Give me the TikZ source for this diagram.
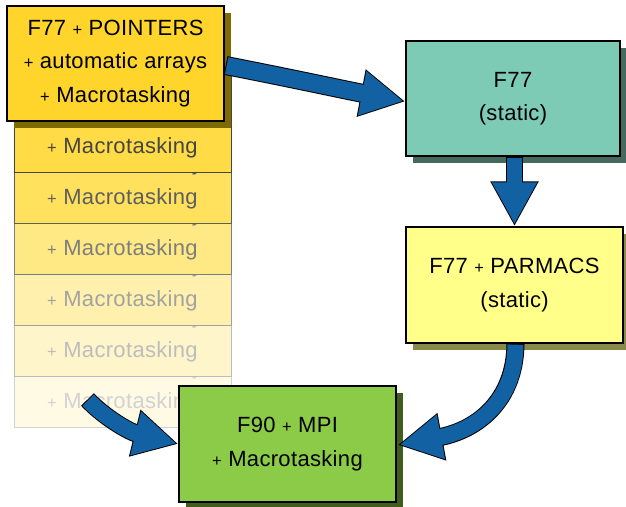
\documentclass[tikz,border=0pt]{standalone}
\usepackage{fontspec}
\setmainfont{Liberation Sans}[LetterSpace=1.5]
\usetikzlibrary{arrows.meta,calc,shadows}

% box fills and shadows
\definecolor{goldfill}{HTML}{FFD42B}
\definecolor{goldshadow}{HTML}{7F6A00}
\definecolor{tealfill}{HTML}{7ECBB5}
\definecolor{tealshadow}{HTML}{46685E}
\definecolor{lemonfill}{HTML}{FFFF8A}
\definecolor{lemonshadow}{HTML}{8A8A4A}
\definecolor{greenfill}{HTML}{8CCB47}
\definecolor{greenshadow}{HTML}{405C1E}
\definecolor{arrowblue}{HTML}{1261A3}
% fading copies of the first box
\definecolor{cf1}{HTML}{FFDB45}\definecolor{ct1}{HTML}{454545}
\definecolor{cf2}{HTML}{FFE15E}\definecolor{ct2}{HTML}{5E5E5E}
\definecolor{cf3}{HTML}{FFE985}\definecolor{ct3}{HTML}{7E7E7E}
\definecolor{cf4}{HTML}{FFF0AE}\definecolor{ct4}{HTML}{A2A2A2}
\definecolor{cf5}{HTML}{FFF5CB}\definecolor{ct5}{HTML}{BDBDBD}
\definecolor{cf6}{HTML}{FFFAE3}\definecolor{ct6}{HTML}{D2D2D2}

\newcommand\smallplus{{\fontsize{16.5}{16.5}\selectfont+}}
\newcommand\firsttext{F77 \smallplus{} POINTERS\\\smallplus{} automatic arrays\\\smallplus{} Macrotasking}

\begin{document}
\begin{tikzpicture}[x=1pt,y=-1pt,
  box/.style={draw=black, line width=1.3pt, minimum width=217pt,
    minimum height=115pt, inner sep=0pt, align=center,
    font=\fontsize{22}{33.5}\selectfont},
  copybox/.style={box, line width=1pt, fill=cf#1, text=ct#1, draw=ct#1},
  shadowed/.style={drop shadow={shadow xshift=7pt, shadow yshift=-7pt,
    opacity=1, fill=#1}},
  blk/.style={
    preaction={draw=black, line width=#1+2pt, shorten <=0pt, shorten >=0pt,
      -{Triangle[length=45pt,width=45pt]}},
    draw=arrowblue, line width=#1, shorten <=1pt, shorten >=2pt,
    -{Triangle[length=42pt,width=42pt]}}]

\useasboundingbox (0,0) rectangle (626,506);
\fill[white] (0,0) rectangle (626,506);

% stacked, fading copies (lowest first)
\node[copybox=6] (copy6) at (122.5,369.5) {\firsttext};
\node[copybox=5] (copy5) at (122.5,318.5) {\firsttext};
\node[copybox=4] (copy4) at (122.5,267.5) {\firsttext};
\node[copybox=3] (copy3) at (122.5,216.5) {\firsttext};
\node[copybox=2] (copy2) at (122.5,165.5) {\firsttext};
\node[copybox=1] (copy1) at (122.5,114.5) {\firsttext};

% main boxes
\node[box, fill=goldfill, shadowed=goldshadow] (main) at (115.5,63.5) {\firsttext};
\node[box, fill=tealfill, shadowed=tealshadow, minimum width=214pt] (teal) at (513,98.5) {F77\\(static)};
\node[box, fill=lemonfill, shadowed=lemonshadow, minimum height=116pt] (lemon) at (514.5,285) {F77 \smallplus{} PARMACS\\(static)};
\node[box, fill=greenfill, shadowed=greenshadow, minimum height=116pt] (green) at (287.5,444) {F90 \smallplus{} MPI\\\smallplus{} Macrotasking};

% block arrows
\draw[blk=17pt] ($(main.east)+(1,2)$) .. controls (290,78) and (345,90) .. ($(teal.west)+(0,3)$);
\draw[blk=15pt] (lemon.north |- teal.south) -- (lemon.north);
\draw[blk=16pt] ($(lemon.south)+(1,0)$) .. controls (515,400) and (478,430) .. ($(green.east)+(1,1)$);
\draw[blk=16pt] ($(copy6.south)+(-35,-28)$) .. controls (105,418) and (130,432) .. (green.west);
\end{tikzpicture}
\end{document}
